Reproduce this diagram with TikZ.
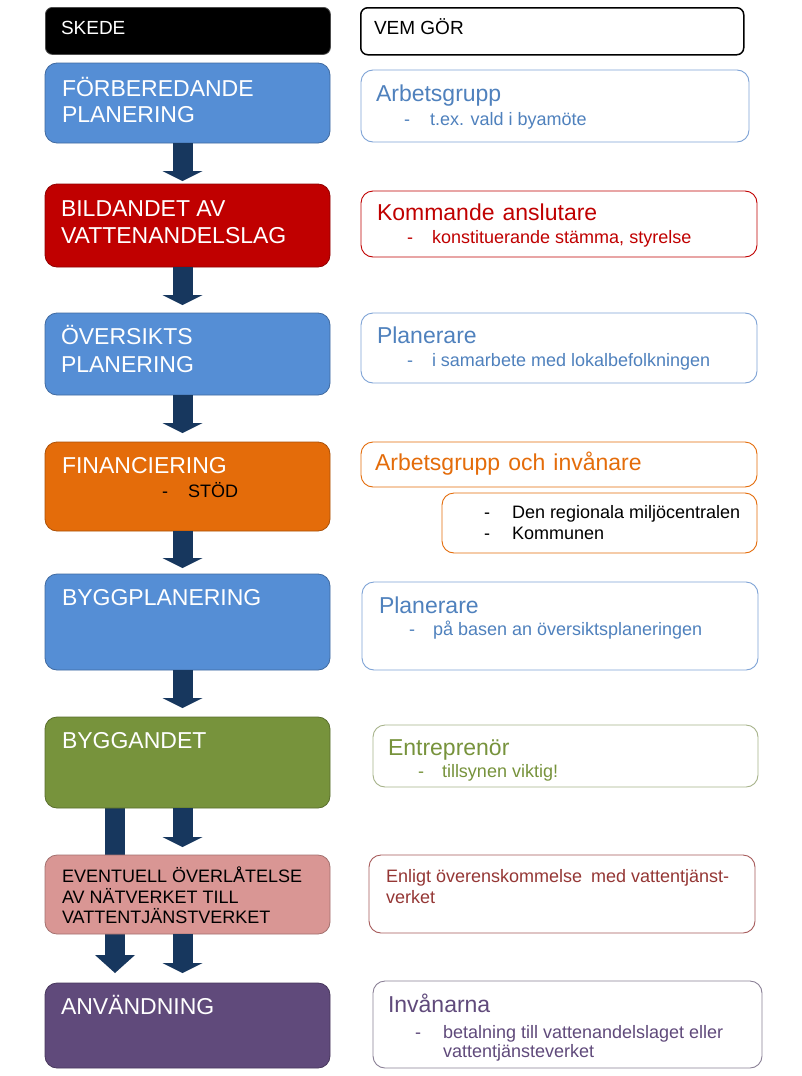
\documentclass[tikz,border=0pt]{standalone}
\usepackage{fontspec}
\setmainfont{Liberation Sans}
\usetikzlibrary{arrows.meta}
\pgfdeclarelayer{background}
\pgfsetlayers{background,main}
\definecolor{cblue}{HTML}{558ED5}
\definecolor{cred}{HTML}{C00000}
\definecolor{corange}{HTML}{E46C0A}
\definecolor{cgreen}{HTML}{77933C}
\definecolor{cpink}{HTML}{D99694}
\definecolor{cpurple}{HTML}{604A7B}
\definecolor{cnavy}{HTML}{17375E}
\definecolor{tblue}{HTML}{4F81BD}
\definecolor{bblue}{HTML}{7EA3D6}
\definecolor{tdred}{HTML}{953735}
\definecolor{bdred}{HTML}{A65A5A}
\definecolor{bgreen}{HTML}{A7B38A}
\definecolor{bpurple}{HTML}{8A8096}
\newcommand\fbig{\fontsize{23}{26}\selectfont}
\newcommand\fsub{\fontsize{18}{20}\selectfont}
\newcommand\fhead{\fontsize{19}{22}\selectfont}
\begin{document}
\begin{tikzpicture}[x=1pt,y=-1pt,
  lbox/.style={draw=#1!75!black, fill=#1, line width=0.8pt, rounded corners=12pt,
    anchor=north west, inner sep=0pt, outer sep=0pt},
  rbox/.style={draw=#1, fill=white, line width=0.9pt, rounded corners=12pt,
    anchor=north west, inner sep=0pt, outer sep=0pt},
  big/.style={anchor=base west, inner sep=0pt, outer sep=0pt, font=\fbig, text=#1},
  sub/.style={anchor=base west, inner sep=0pt, outer sep=0pt, font=\fsub, text=#1},
  hd/.style={anchor=base west, inner sep=0pt, outer sep=0pt, font=\fhead, text=#1},
  arr/.style={draw=cnavy, line width=20pt,
    -{Triangle[width=40pt,length=10pt,line width=0pt]}},
  arrL/.style={draw=cnavy, line width=20pt,
    -{Triangle[width=40pt,length=18pt,line width=0pt]}}]
\useasboundingbox (0,0) rectangle (802,1076);
\begin{pgfonlayer}{background}
\fill[white] (0,0) rectangle (802,1076);
\end{pgfonlayer}

% header
\node[draw=black!70, fill=black, line width=0.8pt, rounded corners=7pt, anchor=north west,
  inner sep=0pt, minimum width=285pt, minimum height=47pt] (h1) at (45,7) {};
\node[hd=white] (h1t) at (61,34) {SKEDE};
\node[draw=black, fill=white, line width=1.5pt, rounded corners=7pt, anchor=north west,
  inner sep=0pt, minimum width=383pt, minimum height=47pt] (h2) at (360,7) {};
\node[hd=black] (h2t) at (374,34) {VEM GÖR};

% left column boxes
\node[lbox=cblue,   minimum width=285pt, minimum height=80pt] (b1) at (45,63) {};
\node[lbox=cred,    minimum width=285pt, minimum height=83pt] (b2) at (45,184) {};
\node[lbox=cblue,   minimum width=285pt, minimum height=82pt] (b3) at (45,313) {};
\node[lbox=corange, minimum width=285pt, minimum height=89pt] (b4) at (45,442) {};
\node[lbox=cblue,   minimum width=285pt, minimum height=96pt] (b5) at (45,574) {};
\node[lbox=cgreen,  minimum width=285pt, minimum height=91pt] (b6) at (45,717) {};
\node[lbox=cpink,   minimum width=285pt, minimum height=79pt] (b7) at (45,855) {};
\node[lbox=cpurple, minimum width=285pt, minimum height=85pt] (b8) at (45,983) {};

% left texts
\node[big=white] (t1a) at (62,96) {FÖRBEREDANDE};
\node[big=white] (t1b) at (62,122) {PLANERING};
\node[big=white] (t2a) at (61,216) {BILDANDET AV};
\node[big=white] (t2b) at (61,243) {VATTENANDELSLAG};
\node[big=white] (t3a) at (61,344) {ÖVERSIKTS};
\node[big=white] (t3b) at (61,372) {PLANERING};
\node[big=white] (t4a) at (62,473) {FINANCIERING};
\node[sub=black] (t4d) at (162,497) {-};
\node[sub=black] (t4b) at (188,497) {STÖD};
\node[big=white] (t5a) at (62,605) {BYGGPLANERING};
\node[big=white] (t6a) at (62,748) {BYGGANDET};
\node[sub=black] (t7a) at (62,882) {EVENTUELL ÖVERLÅTELSE};
\node[sub=black] (t7b) at (62,903) {AV NÄTVERKET TILL};
\node[sub=black] (t7c) at (62,923) {VATTENTJÄNSTVERKET};
\node[big=white] (t8a) at (61,1014) {ANVÄNDNING};

% right column boxes
\node[rbox=bblue,   minimum width=388pt, minimum height=72pt] (r1) at (361,70) {};
\node[rbox=cred,    minimum width=396pt, minimum height=66pt] (r2) at (361,191) {};
\node[rbox=bblue,   minimum width=396pt, minimum height=70pt] (r3) at (361,313) {};
\node[rbox=corange, minimum width=396pt, minimum height=45pt] (r4) at (361,442) {};
\node[rbox=corange, minimum width=315pt, minimum height=60pt] (r4b) at (442,493) {};
\node[rbox=bblue,   minimum width=396pt, minimum height=88pt] (r5) at (362,582) {};
\node[rbox=bgreen,  minimum width=385pt, minimum height=62pt] (r6) at (373,725) {};
\node[rbox=bdred,   minimum width=386pt, minimum height=78pt] (r7) at (369,855) {};
\node[rbox=bpurple, minimum width=389pt, minimum height=87pt] (r8) at (373,981) {};

% right texts
\node[big=tblue] (s1a) at (376,101) {Arbetsgrupp};
\node[sub=tblue] (s1d) at (404,125) {-};
\node[sub=tblue] (s1b) at (430,125) {t.ex. vald i byamöte};
\node[big=cred] (s2a) at (377,220) {Kommande\hspace{0.35em}anslutare};
\node[sub=cred] (s2d) at (407,243) {-};
\node[sub=cred] (s2b) at (432,243) {konstituerande stämma,\hspace{0.3em}styrelse};
\node[big=tblue] (s3a) at (377,343) {Planerare};
\node[sub=tblue] (s3d) at (407,366) {-};
\node[sub=tblue] (s3b) at (432,366) {i samarbete med lokalbefolkningen};
\node[big=corange] (s4a) at (375,470) {Arbetsgrupp\hspace{0.35em}och\hspace{0.35em}invånare};
\node[sub=black] (s4d1) at (484,518) {-};
\node[sub=black] (s4b) at (512,518) {Den regionala miljöcentralen};
\node[sub=black] (s4d2) at (484,539) {-};
\node[sub=black] (s4c) at (512,539) {Kommunen};
\node[big=tblue] (s5a) at (379,613) {Planerare};
\node[sub=tblue] (s5d) at (409,635) {-};
\node[sub=tblue] (s5b) at (433,635) {på basen an översiktsplaneringen};
\node[big=cgreen] (s6a) at (388,755) {Entreprenör};
\node[sub=cgreen] (s6d) at (418,777) {-};
\node[sub=cgreen] (s6b) at (442,777) {tillsynen viktig!};
\node[sub=tdred] (s7a) at (386,882) {Enligt överenskommelse\hspace{0.5em}med vattentjänst-};
\node[sub=tdred] (s7b) at (386,903) {verket};
\node[big=cpurple] (s8a) at (388,1012) {Invånarna};
\node[sub=cpurple] (s8d) at (415,1038) {-};
\node[sub=cpurple] (s8b) at (443,1038) {betalning till vattenandelslaget eller};
\node[sub=cpurple] (s8c) at (443,1057) {vattentjänsteverket};

% arrows
\draw[arr, shorten >=3pt] ([xshift=-5pt]b1.south) -- ([xshift=-5pt]b2.north);
\draw[arr, shorten >=8pt] ([xshift=-5pt]b2.south) -- ([xshift=-5pt]b3.north);
\draw[arr, shorten >=9pt] ([xshift=-5pt]b3.south) -- ([xshift=-5pt]b4.north);
\draw[arr, shorten >=6pt] ([xshift=-5pt]b4.south) -- ([xshift=-5pt]b5.north);
\draw[arr, shorten >=9pt] ([xshift=-5pt]b5.south) -- ([xshift=-5pt]b6.north);
\draw[arr, shorten >=8pt] ([xshift=-5pt]b6.south) -- ([xshift=-5pt]b7.north);
\draw[arr, shorten >=10pt] ([xshift=-5pt]b7.south) -- ([xshift=-5pt]b8.north);
\begin{pgfonlayer}{background}
\draw[arrL, shorten >=10pt] ([xshift=-72.5pt]b6.south) -- ([xshift=-72.5pt]b8.north);
\end{pgfonlayer}
\end{tikzpicture}
\end{document}
